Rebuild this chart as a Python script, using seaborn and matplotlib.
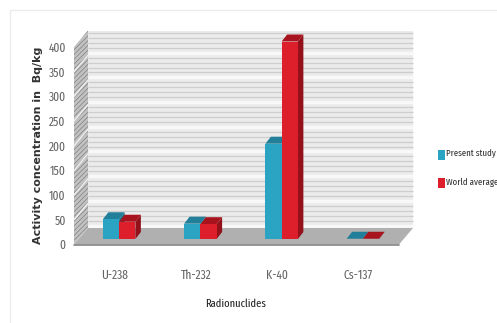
import matplotlib
matplotlib.use("Agg")
import matplotlib.pyplot as plt
from matplotlib import font_manager as fm
from matplotlib.patches import Polygon, Rectangle
import numpy as np
import pandas as pd
import seaborn as sns

# Activity concentrations in Bq/kg
nuclides = ["U-238", "Th-232", "K-40", "Cs-137"]
present_study = [40, 31, 193, 0.5]
world_average = [35, 30, 400, 0.5]
series_names = ["Present study", "World average"]
y_ticks = [0, 50, 100, 150, 200, 250, 300, 350, 400]

BLUE, BLUE_TOP, BLUE_SIDE = "#2ba3c2", "#217f99", "#1c6f86"
RED, RED_TOP, RED_SIDE = "#dc1f2a", "#a8141d", "#92111a"
W, H = 497, 323

sns.set_theme(style="white")

# Prefer a condensed humanist face for the labels
names = {f.name for f in fm.fontManager.ttflist}
narrow = next((n for n in ["Fira Sans Extra Condensed", "PT Sans Narrow", "Archivo Narrow",
                           "Roboto Condensed", "Liberation Sans"] if n in names), "DejaVu Sans")

fig = plt.figure(figsize=(W / 100, H / 100), dpi=100, facecolor="white")


def box(left, top, right, bottom):
    return [left / W, 1 - bottom / H, (right - left) / W, (bottom - top) / H]


# Page frame behind the chart
fig.add_artist(Rectangle((10 / W, -0.1), 1.2, 1 - 10 / H + 0.1, transform=fig.transFigure,
                         fill=False, ec="#ececec", lw=1))

# Front plane of the plot box: carries the value scale and category labels
ax = fig.add_axes(box(74, 47, 399, 244.5))
ax.set_xlim(-0.5, 3.5)
ax.set_ylim(0, 400)
ax.patch.set_alpha(0)
ax.set_yticks(y_ticks)
ax.set_xticks(range(4))
ax.set_xticklabels(nuclides, family=narrow, fontsize=9, color="#666666")
ax.tick_params(axis="y", length=3.5, width=0.9, color="#8a8a8a", pad=2.5, labelsize=9, labelcolor="#666666")
ax.tick_params(axis="x", length=0, pad=18)
for lab in ax.get_yticklabels():
    lab.set_family(narrow)
for s in ax.spines.values():
    s.set_visible(False)
ax.set_xlabel("Radionuclides", family=narrow, fontsize=8.2, color="#222222")
ax.xaxis.set_label_coords((236 - 74) / 325, -(304 - 244.5) / 197.5, transform=ax.transAxes)
ax.xaxis.label.set_va("center")
ax.set_ylabel("Activity concentration in  Bq/kg", family="DejaVu Sans", fontsize=8,
              color="#333333", fontweight="bold")
ax.yaxis.set_label_coords((38 - 74) / 325, 0.5, transform=ax.transAxes)
ax.yaxis.label.set_va("center")

# Back wall with its stripes, side wall and floor
px_x = 1 / (325 / 4)
px_y = 400 / 197.5
wall_dx, wall_dy = 14 * px_x, 16.5 * px_y
x0, x1 = -0.5, 3.5
ax.add_patch(Rectangle((x0 + wall_dx, wall_dy), 4, 400, fc="#ebebeb", ec="none", zorder=0,
                       clip_on=False))
for v in np.arange(0, 400, 10):
    shade = "#f8f8f8" if v % 50 == 0 else "#cdcdcd"
    lw = 2.4 if v % 50 == 0 else 0.9
    ax.plot([x0 + wall_dx, x1 + wall_dx], [v + wall_dy + 5] * 2, color=shade, lw=lw, zorder=0.5,
            clip_on=False, solid_capstyle="butt")
plt.rcParams["hatch.linewidth"] = 0.5
ax.add_patch(Polygon([(x0, 0), (x0 + wall_dx, wall_dy), (x0 + wall_dx, 400 + wall_dy), (x0, 400)],
                     fc="#c2c2c2", hatch="///////", ec="#7f7f7f", lw=0, zorder=1, clip_on=False))
for v in y_ticks[1:-1]:
    ax.plot([x0, x0 + wall_dx], [v, v + wall_dy], color="#f0f0f0", lw=1, zorder=1.2, clip_on=False)
ax.add_patch(Polygon([(x0, 0), (x1, 0), (x1 + wall_dx, wall_dy), (x0 + wall_dx, wall_dy)],
                     fc="#b0b0b0", ec="none", zorder=1.3, clip_on=False))
ax.plot([x0, x1], [0, 0], color="#858585", lw=1.2, zorder=1.5, clip_on=False)

# Bars stand on the floor, so they live on a plane set back from the front edge
bar_ax = fig.add_axes(box(78.5, 41.5, 403.5, 239))
frame = pd.DataFrame({
    "nuclide": nuclides * 2,
    "value": present_study + world_average,
    "series": [series_names[0]] * 4 + [series_names[1]] * 4,
})
sns.barplot(data=frame, x="nuclide", y="value", hue="series", ax=bar_ax,
            palette=[BLUE, RED], width=0.4, legend=False, saturation=1,
            edgecolor="none", zorder=3)
bar_ax.set_xlim(-0.5, 3.5)
bar_ax.set_ylim(0, 400)
bar_ax.axis("off")

# Extrude each bar with a top face and a side face
depth_x, depth_y = 5.5 * px_x, 7 * px_y
bars = list(bar_ax.patches)
for i, bar in enumerate(bars):
    left, w, h = bar.get_x(), bar.get_width(), bar.get_height()
    top_c = BLUE_TOP if i < 4 else RED_TOP
    side_c = BLUE_SIDE if i < 4 else RED_SIDE
    right = left + w
    z = 2.5 + 0.1 * (i % 4) + (0.5 if i >= 4 else 0)
    bar.set_zorder(z + 0.05)
    bar_ax.add_patch(Polygon([(right, 0), (right + depth_x, depth_y), (right + depth_x, h + depth_y), (right, h)],
                             fc=side_c, ec="none", zorder=z, clip_on=False))
    bar_ax.add_patch(Polygon([(left, h), (right, h), (right + depth_x, h + depth_y), (left + depth_x, h + depth_y)],
                             fc=top_c, ec="none", zorder=z, clip_on=False))

# Legend swatches next to the plot
for y_px, color, name in [(155, BLUE, series_names[0]), (183, RED, series_names[1])]:
    fig.add_artist(Rectangle((438 / W, 1 - (y_px + 5) / H), 6.5 / W, 10 / H,
                             transform=fig.transFigure, fc=color, ec="none"))
    fig.text(446 / W, 1 - (y_px - 1) / H, name, family=narrow, fontsize=6.9,
             color="#333333", va="center", ha="left")

fig.savefig("out.png", dpi=100)
